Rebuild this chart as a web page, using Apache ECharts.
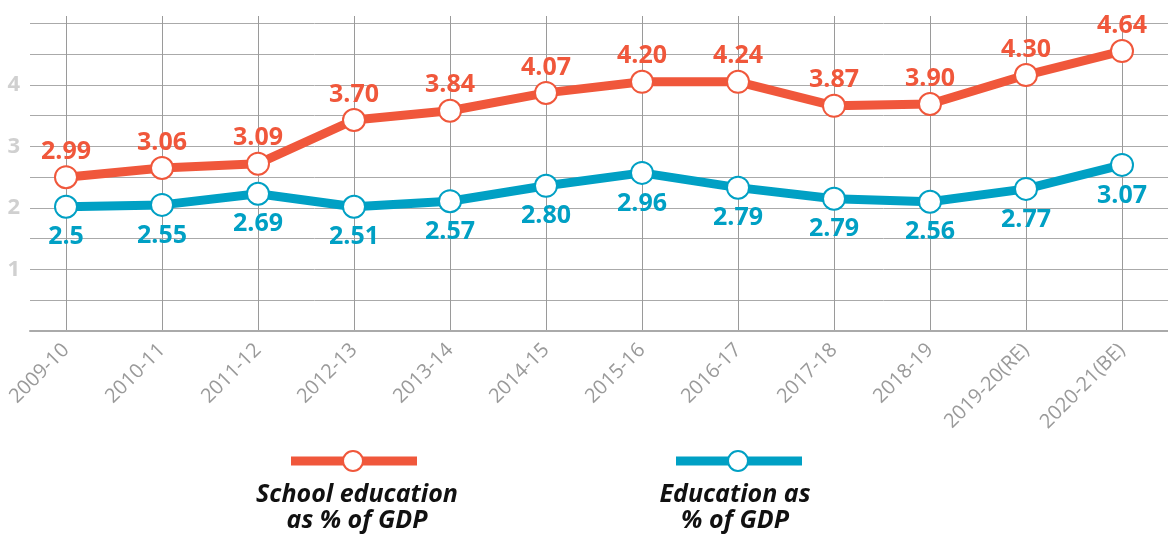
<!DOCTYPE html>
<html>
<head>
<meta charset="utf-8">
<script src="https://cdn.jsdelivr.net/npm/echarts@6/dist/echarts.min.js"></script>
<style>
  html, body { margin: 0; padding: 0; background: #fff; }
  #chart { width: 1168px; height: 536px; }
</style>
</head>
<body>
<div id="chart"></div>
<script>
// categories
const years = ['2009-10', '2010-11', '2011-12', '2012-13', '2013-14', '2014-15',
  '2015-16', '2016-17', '2017-18', '2018-19', '2019-20(RE)', '2020-21(BE)']

// plotted positions
const schoolValues = [2.50, 2.65, 2.72, 3.43, 3.58, 3.87, 4.05, 4.05, 3.66, 3.69, 4.16, 4.55]
const eduValues = [2.02, 2.05, 2.23, 2.02, 2.11, 2.36, 2.57, 2.33, 2.15, 2.10, 2.31, 2.70]

// printed labels
const schoolLabels = ['2.99', '3.06', '3.09', '3.70', '3.84', '4.07', '4.20', '4.24', '3.87', '3.90', '4.30', '4.64']
const eduLabels = ['2.5', '2.55', '2.69', '2.51', '2.57', '2.80', '2.96', '2.79', '2.79', '2.56', '2.77', '3.07']

const yTicks = [1, 2, 3, 4]

const ORANGE = '#f0573b'
const BLUE = '#00a0c4'
const FONT = 'Open Sans'

const chart = echarts.init(document.getElementById('chart'))

const lineSeries = (name, values, labels, color, pos, dist) => ({
  name,
  type: 'line',
  xAxisIndex: 0,
  yAxisIndex: 0,
  data: values,
  symbol: 'circle',
  symbolSize: 22,
  lineStyle: { color, width: 9 },
  itemStyle: { color: '#fff', borderColor: color, borderWidth: 2 },
  label: {
    show: true,
    position: pos,
    distance: dist,
    formatter: p => labels[p.dataIndex],
    color,
    fontFamily: FONT,
    fontWeight: 'bold',
    fontSize: 25
  },
  emphasis: { disabled: true }
})

chart.setOption({
  animation: false,
  grid: [
    { left: 66, right: 46, top: 16, bottom: 205 },
    { left: 30, right: 0, top: 16, bottom: 205 }
  ],
  xAxis: [{
    gridIndex: 0,
    type: 'category',
    data: years,
    boundaryGap: false,
    axisLine: { show: false },
    axisTick: { show: false },
    splitLine: { show: true, lineStyle: { color: '#9a9a9a', width: 1 } },
    axisLabel: {
      rotate: 45,
      margin: 16,
      interval: 0,
      color: '#9a9a9a',
      fontFamily: FONT,
      fontSize: 20
    }
  }, {
    gridIndex: 1,
    type: 'value',
    min: 0,
    max: 1,
    axisLine: { show: true, lineStyle: { color: '#aaa', width: 2 } },
    axisTick: { show: false },
    axisLabel: { show: false },
    splitLine: { show: false }
  }],
  yAxis: [{
    gridIndex: 0,
    type: 'value',
    min: 0,
    max: 5.12,
    show: false
  }, {
    gridIndex: 1,
    type: 'value',
    min: 0,
    max: 5.12,
    interval: 0.5,
    axisLine: { show: false },
    axisTick: { show: false },
    splitLine: { show: true, showMaxLine: false, lineStyle: { color: '#aaa', width: 1 } },
    axisLabel: {
      margin: 10,
      color: '#d0d0d0',
      fontFamily: FONT,
      fontWeight: 'bold',
      fontSize: 22,
      formatter: v => (yTicks.includes(v) ? String(v) : '')
    }
  }],
  series: [
    lineSeries('School education as % of GDP', schoolValues, schoolLabels, ORANGE, 'top', 1),
    lineSeries('Education as % of GDP', eduValues, eduLabels, BLUE, 'bottom', 6)
  ],
  graphic: [
    { type: 'line', shape: { x1: 291, y1: 461, x2: 417, y2: 461 }, style: { stroke: ORANGE, lineWidth: 9 } },
    { type: 'circle', shape: { cx: 353, cy: 461, r: 10 }, style: { fill: '#fff', stroke: ORANGE, lineWidth: 2 } },
    {
      type: 'text', x: 357, y: 482,
      style: {
        text: 'School education\nas % of GDP', align: 'center',
        font: 'italic bold 25px "Open Sans"', fill: '#111', lineHeight: 26
      }
    },
    { type: 'line', shape: { x1: 676, y1: 461, x2: 802, y2: 461 }, style: { stroke: BLUE, lineWidth: 9 } },
    { type: 'circle', shape: { cx: 738, cy: 461, r: 10 }, style: { fill: '#fff', stroke: BLUE, lineWidth: 2 } },
    {
      type: 'text', x: 735, y: 482,
      style: {
        text: 'Education as\n% of GDP', align: 'center',
        font: 'italic bold 25px "Open Sans"', fill: '#111', lineHeight: 26
      }
    }
  ]
})
</script>
</body>
</html>
